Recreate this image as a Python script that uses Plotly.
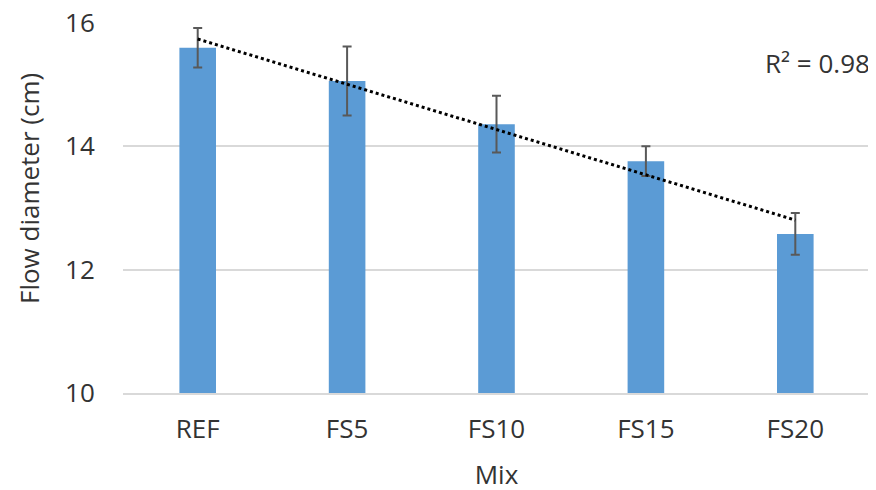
import numpy as np
import plotly.graph_objects as go

categories = ["REF", "FS5", "FS10", "FS15", "FS20"]
flow_mean = [15.60, 15.06, 14.36, 13.76, 12.58]
flow_err = [0.32, 0.56, 0.46, 0.24, 0.34]
y_ticks = [10, 12, 14, 16]

xi = np.arange(1, len(categories) + 1)
slope, intercept = np.polyfit(xi, flow_mean, 1)
fit = slope * xi + intercept
ss_res = np.sum((np.array(flow_mean) - fit) ** 2)
ss_tot = np.sum((np.array(flow_mean) - np.mean(flow_mean)) ** 2)
r2 = 1 - ss_res / ss_tot

font = "Open Sans, Liberation Sans, sans-serif"
txt = "#333333"

fig = go.Figure()
fig.add_trace(go.Bar(
    x=categories, y=flow_mean, width=0.245,
    marker=dict(color="#5B9BD5", line=dict(width=0)),
    error_y=dict(type="data", array=flow_err, visible=True,
                 color="#595959", thickness=2, width=4.5),
    showlegend=False,
))
fig.add_trace(go.Scatter(
    x=categories, y=fit, mode="lines",
    line=dict(color="black", width=3, dash="dot"),
    showlegend=False, hoverinfo="skip",
))
fig.add_annotation(
    text=f"R² = {r2:.2f}", xref="paper", yref="paper",
    x=1.0027, y=0.892, xanchor="right", yanchor="middle",
    showarrow=False, font=dict(family=font, size=26, color=txt),
)
fig.add_annotation(
    text="Flow diameter (cm)", xref="paper", yref="paper",
    x=-0.1258, y=0.5514, xanchor="center", yanchor="middle",
    textangle=-90, showarrow=False,
    font=dict(family=font, size=26, color=txt),
)
fig.update_layout(
    width=876, height=490,
    margin=dict(l=115, r=14, t=15, b=105, autoexpand=False),
    paper_bgcolor="white", plot_bgcolor="white",
    font=dict(family=font, size=26, color=txt),
)
fig.update_xaxes(
    title=dict(text="Mix", font=dict(size=26, color=txt), standoff=21),
    showgrid=False, showline=True, linecolor="#D9D9D9", linewidth=1.5,
    ticks="outside", ticklen=12, tickcolor="rgba(0,0,0,0)",
    automargin=False,
    tickfont=dict(size=26, color=txt),
)
fig.update_yaxes(
    range=[10, 16], tickvals=y_ticks, showgrid=True, gridcolor="#D9D9D9",
    gridwidth=1.5, zeroline=False, showline=False,
    ticks="outside", ticklen=22, tickcolor="rgba(0,0,0,0)",
    ticklabeloverflow="allow", automargin=False,
    tickfont=dict(size=26, color=txt),
)
fig.write_html("out.html")
